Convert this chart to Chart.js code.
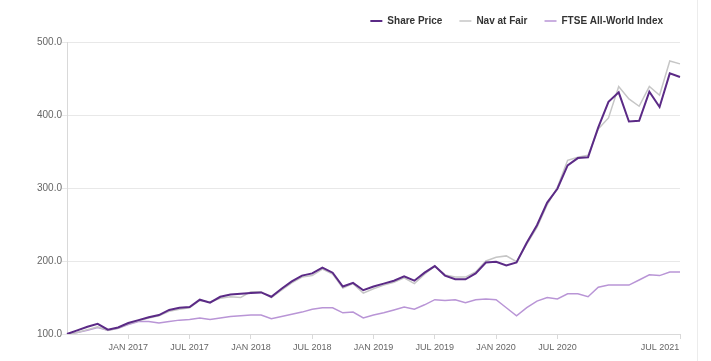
<!DOCTYPE html>
<html>
<head>
<meta charset="utf-8">
<script src="https://cdn.jsdelivr.net/npm/chart.js"></script>
<style>
  html, body { margin: 0; padding: 0; background: #fff; }
  #wrap { width: 697px; height: 361px; border-right: 1px solid #ececec; }
</style>
</head>
<body>
<div id="wrap"><canvas id="perfChart" width="697" height="361"></canvas></div>
<script>
// monthly points, Jul 2016 .. Jul 2021 (rebased to 100)
const months = [
    '2016-07','2016-08','2016-09','2016-10','2016-11','2016-12',
    '2017-01','2017-02','2017-03','2017-04','2017-05','2017-06',
    '2017-07','2017-08','2017-09','2017-10','2017-11','2017-12',
    '2018-01','2018-02','2018-03','2018-04','2018-05','2018-06',
    '2018-07','2018-08','2018-09','2018-10','2018-11','2018-12',
    '2019-01','2019-02','2019-03','2019-04','2019-05','2019-06',
    '2019-07','2019-08','2019-09','2019-10','2019-11','2019-12',
    '2020-01','2020-02','2020-03','2020-04','2020-05','2020-06',
    '2020-07','2020-08','2020-09','2020-10','2020-11','2020-12',
    '2021-01','2021-02','2021-03','2021-04','2021-05','2021-06',
    '2021-07'
];

const sharePrice = [
    100, 105, 110, 114, 106, 109, 115, 119, 123, 126, 133, 136,
    137, 147, 143, 151, 154, 155, 156, 157, 151, 162, 172, 180,
    183, 191, 184, 165, 170, 160, 165, 169, 173, 179, 173, 184,
    193, 180, 175, 175, 183, 198, 199, 194, 198, 225, 249, 280,
    299, 331, 341, 342, 383, 418, 431, 391, 392, 432, 411, 457,
    452
];

const navAtFair = [
    100, 102, 106, 110, 105, 108, 114, 118, 122, 125, 131, 134,
    136, 146, 144, 149, 151, 150, 158, 158, 150, 160, 170, 178,
    180, 189, 182, 163, 169, 156, 162, 167, 171, 177, 169, 182,
    193, 181, 178, 178, 185, 200, 205, 207, 199, 223, 246, 277,
    301, 338, 342, 345, 381, 396, 439, 422, 412, 439, 427, 474,
    470
];

const ftseAllWorld = [
    100, 102, 105, 109, 105, 108, 113, 117, 117, 115, 117, 119,
    120, 122, 120, 122, 124, 125, 126, 126, 121, 124, 127, 130,
    134, 136, 136, 129, 130, 122, 126, 129, 133, 137, 134, 140,
    147, 146, 147, 143, 147, 148, 147, 136, 125, 136, 145, 150,
    148, 155, 155, 151, 164, 167, 167, 167, 174, 181, 180, 185,
    185
];

// labelled months on the x axis (JAN 2021 is not shown in the original)
const tickMonths = ['2017-01','2017-07','2018-01','2018-07','2019-01','2019-07','2020-01','2020-07','2021-07'];
const tickLabels = ['JAN 2017','JUL 2017','JAN 2018','JUL 2018','JAN 2019','JUL 2019','JAN 2020','JUL 2020','JUL 2021'];

const yTicks = [100, 200, 300, 400, 500];

Chart.defaults.font.family = '"Liberation Sans", Arial, Helvetica, sans-serif';
Chart.defaults.color = '#666';

function initPerfChart() {
    const ctx = document.getElementById('perfChart').getContext('2d');
    new Chart(ctx, {
        type: 'line',
        data: {
            labels: months,
            datasets: [{
                label: 'Share Price',
                data: sharePrice,
                borderColor: '#5b2a86',
                backgroundColor: '#5b2a86',
                borderWidth: 2
            }, {
                label: 'Nav at Fair',
                data: navAtFair,
                borderColor: '#c6c6c6',
                backgroundColor: '#c6c6c6',
                borderWidth: 1.5
            }, {
                label: 'FTSE All-World Index',
                data: ftseAllWorld,
                borderColor: '#b995d6',
                backgroundColor: '#b995d6',
                borderWidth: 1.5
            }]
        },
        options: {
            responsive: false,
            animation: false,
            elements: {
                point: { radius: 0, hoverRadius: 0 },
                line: { tension: 0, fill: false }
            },
            layout: { padding: { left: 0, right: 17, top: -1, bottom: 0 } },
            plugins: {
                tooltip: { enabled: false },
                legend: {
                    display: true,
                    position: 'top',
                    align: 'end',
                    fullSize: false,
                    labels: {
                        usePointStyle: true,
                        pointStyle: 'line',
                        pointStyleWidth: 12,
                        boxHeight: 10,
                        padding: 17,
                        color: '#333',
                        font: { size: 10, weight: 'bold' }
                    }
                },
                // empty title used only as a small gap between legend and plot
                title: {
                    display: true,
                    text: '',
                    position: 'top',
                    weight: 500,
                    fullSize: false,
                    padding: 0,
                    font: { size: 6, lineHeight: 1 }
                }
            },
            scales: {
                x: {
                    type: 'category',
                    offset: false,
                    grid: {
                        drawOnChartArea: false,
                        drawTicks: true,
                        tickLength: 5,
                        color: '#d9d9d9'
                    },
                    border: { display: true, color: '#d9d9d9' },
                    ticks: {
                        autoSkip: false,
                        maxRotation: 0,
                        padding: 3,
                        color: '#666',
                        font: { size: 9 },
                        callback: function (value, index) {
                            const k = tickMonths.indexOf(months[index]);
                            if (k < 0) return null;
                            // last label sits left of its tick, like the original
                            if (index === months.length - 1) return tickLabels[k] + ' '.repeat(16);
                            return tickLabels[k];
                        }
                    },
                    afterFit: function (scale) {
                        scale.height = 27;
                        scale.paddingRight = 0;
                        scale.paddingLeft = 0;
                    }
                },
                y: {
                    min: yTicks[0],
                    max: yTicks[yTicks.length - 1],
                    grid: {
                        color: '#e8e8e8',
                        drawTicks: true,
                        tickLength: 5
                    },
                    border: { display: true, color: '#d9d9d9' },
                    ticks: {
                        stepSize: 100,
                        padding: 0,
                        color: '#666',
                        font: { size: 10 },
                        callback: function (v) { return v.toFixed(1); }
                    },
                    afterFit: function (scale) {
                        scale.width = 67;
                    }
                }
            }
        }
    });
}

document.addEventListener('DOMContentLoaded', () => {
    initPerfChart();
});
</script>
</body>
</html>
